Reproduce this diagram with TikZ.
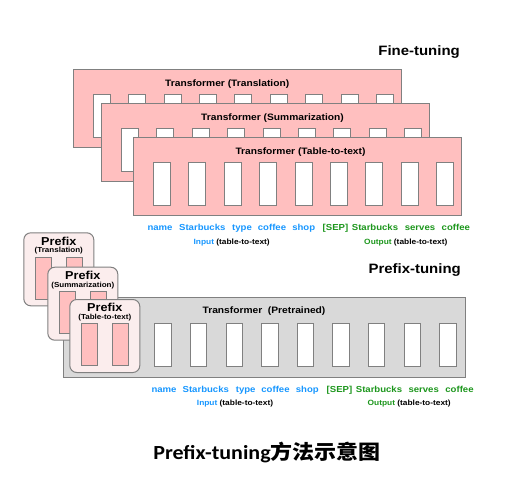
\documentclass[tikz,border=0pt]{standalone}
\usepackage{fontspec}
\setmainfont{Liberation Sans}[FakeStretch=1.1]
\newfontfamily\capfont{Carlito}[FakeStretch=1.1]
\newfontfamily\cjkfont{Noto Sans CJK SC}[FakeStretch=1.1]
\usetikzlibrary{positioning}

\definecolor{layerpink}{RGB}{255,191,191}
\definecolor{prefixpink}{RGB}{251,237,237}
\definecolor{basegray}{RGB}{217,217,217}
\definecolor{edgegray}{RGB}{128,128,128}
\definecolor{inblue}{RGB}{22,150,255}
\definecolor{outgreen}{RGB}{28,150,28}

\tikzset{
  layerbox/.style={draw=edgegray, fill=layerpink, line width=1pt, minimum width=328pt, minimum height=78pt, inner sep=0pt, anchor=north west},
  basebox/.style={draw=edgegray, fill=basegray, line width=1pt, minimum width=402pt, minimum height=80pt, inner sep=0pt, anchor=north west},
  prefixbox/.style={draw=edgegray, fill=prefixpink, line width=1pt, rounded corners=7pt, minimum width=70pt, minimum height=73pt, inner sep=0pt, anchor=north west},
  slot/.style={draw=edgegray, fill=white, line width=0.8pt, minimum width=17pt, minimum height=43pt, inner sep=0pt, anchor=north west},
  prefixslot/.style={slot, fill=layerpink, minimum width=16pt, minimum height=42pt},
  boxtitle/.style={font=\bfseries\fontsize{9.3}{11}\selectfont, inner sep=0pt},
  word/.style={font=\bfseries\fontsize{8.7}{10}\selectfont, inner sep=0pt, anchor=base},
  iolabel/.style={font=\bfseries\fontsize{7.6}{9}\selectfont, inner sep=0pt},
  heading/.style={font=\bfseries\fontsize{13.6}{16}\selectfont, inner sep=0pt, anchor=east},
  prefixname/.style={font=\bfseries\fontsize{11.5}{13}\selectfont, inner sep=0pt},
  prefixtask/.style={font=\bfseries\fontsize{7.3}{9}\selectfont, inner sep=0pt},
  captiontext/.style={font=\fontsize{20}{24}\selectfont, inner sep=0pt},
}

\begin{document}
\begin{tikzpicture}[x=1pt, y=-1pt]
\useasboundingbox (0,0) rectangle (532,482);

% fine-tuning: a full transformer copy for every task
\node[heading] (fthead) at (460,52) {Fine-tuning};
\foreach \n/\x/\y/\tx/\task in {1/72.7/69/-10/Translation, 2/101/103/7/Summarization, 3/133/137/3/Table-to-text}{
  \node[layerbox] (ft\n) at (\x,\y) {};
  \node[boxtitle] (ft\n-title) at ([xshift=\tx pt, yshift=-15pt]ft\n.north) {Transformer (\task)};
  \foreach \i in {0,...,8}
    \node[slot] (ft\n-s\i) at ([xshift=20pt+\i*35.4pt, yshift=-24.7pt]ft\n.north west) {};
}
\foreach \w/\x/\c [count=\k] in {name/160/inblue, Starbucks/202.3/inblue, type/242/inblue, coffee/272/inblue, shop/303.7/inblue, {[SEP]}/335.5/outgreen, Starbucks/375/outgreen, serves/420/outgreen, coffee/455.8/outgreen}
  \node[word, text=\c] (ftw\k) at (\x,230.3) {\w};
\node[iolabel] (ftin) at (231.7,243) {\textcolor{inblue}{Input} (table-to-text)};
\node[iolabel] (ftout) at (405.8,243) {\textcolor{outgreen}{Output} (table-to-text)};

% prefix-tuning: one frozen transformer, a small prefix per task
\node[heading] (pthead) at (461,270) {Prefix-tuning};
\node[basebox] (pt) at (62.7,297) {};
\node[boxtitle] (pt-title) at (264,311) {Transformer\ \ (Pretrained)};
\foreach \i in {0,...,8}
  \node[slot, minimum width=16.4pt, minimum height=43.3pt] (pt-s\i) at ([xshift=91.6pt+\i*35.6pt, yshift=-25.7pt]pt.north west) {};
\foreach \n/\x/\y/\task in {1/23.3/232.3/Translation, 2/47.3/266.7/Summarization, 3/69.3/299/Table-to-text}{
  \node[prefixbox] (pf\n) at (\x,\y) {};
  \node[prefixname] (pf\n-name) at ([yshift=-8.6pt]pf\n.north) {Prefix};
  \node[prefixtask] (pf\n-task) at ([yshift=-18.6pt]pf\n.north) {(\task)};
  \node[prefixslot] (pf\n-a) at ([xshift=11.7pt, yshift=-24.3pt]pf\n.north west) {};
  \node[prefixslot] (pf\n-b) at ([xshift=42.3pt, yshift=-24.3pt]pf\n.north west) {};
}
\foreach \w/\x/\c [count=\k] in {name/164/inblue, Starbucks/205.8/inblue, type/245.7/inblue, coffee/275.5/inblue, shop/307.3/inblue, {[SEP]}/339.5/outgreen, Starbucks/379/outgreen, serves/423.7/outgreen, coffee/459.5/outgreen}
  \node[word, text=\c] (ptw\k) at (\x,392.5) {\w};
\node[iolabel] (ptin) at (235,403.3) {\textcolor{inblue}{Input} (table-to-text)};
\node[iolabel] (ptout) at (409.2,403.3) {\textcolor{outgreen}{Output} (table-to-text)};

% caption
\node[captiontext] (caption) at (267,452) {\capfont\bfseries Prefix-tuning\cjkfont\bfseries 方法示意图};
\end{tikzpicture}
\end{document}
